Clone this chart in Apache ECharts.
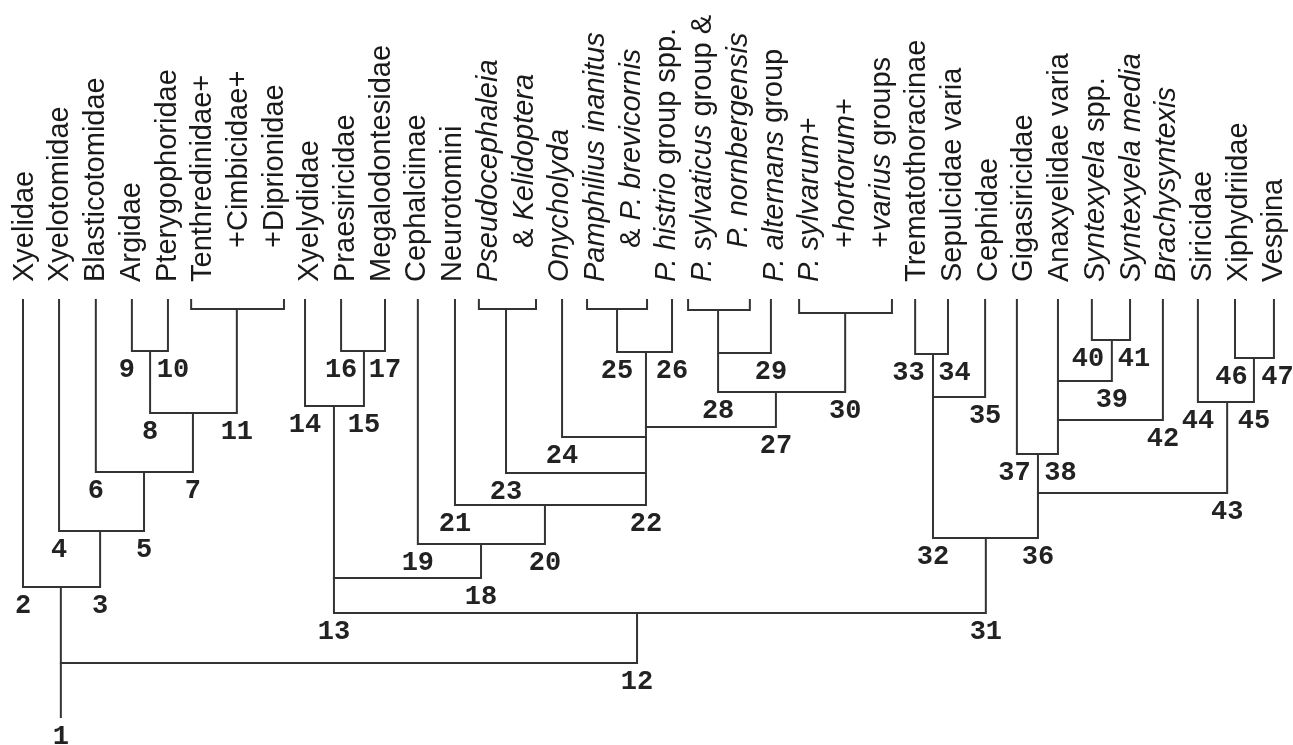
<!DOCTYPE html>
<html><head><meta charset="utf-8">
<script src="https://cdn.jsdelivr.net/npm/echarts@6/dist/echarts.min.js"></script>
<style>html,body{margin:0;padding:0;background:#fff}#chart{width:1293px;height:745px}</style>
</head><body><div id="chart"></div>
<script>
// ---- Leaf label columns (top, rotated) ----
const columnTexts = [
  'Xyelidae', 'Xyelotomidae', 'Blasticotomidae', 'Argidae', 'Pterygophoridae',
  'Tenthredinidae+', '+Cimbicidae+', '+Diprionidae',
  'Xyelydidae', 'Praesiricidae', 'Megalodontesidae', 'Cephalciinae', 'Neurotomini',
  '{i|Pseudocephaleia}', '& {i|Kelidoptera}', '{i|Onycholyda}',
  '{i|Pamphilius inanitus}', '& {i|P. brevicornis}', '{i|P. histrio} group spp.',
  '{i|P. sylvaticus} group &', '{i|P. nornbergensis}', '{i|P. alternans} group',
  '{i|P. sylvarum}+', '+{i|hortorum}+', '+{i|varius} groups',
  'Trematothoracinae', 'Sepulcidae varia', 'Cephidae', 'Gigasiricidae', 'Anaxyelidae varia',
  '{i|Syntexyela} spp.', '{i|Syntexyela media}', '{i|Brachysyntexis}', 'Siricidae', 'Xiphydriidae', 'Vespina'
];
const columnIndent = [0,0,0,0,0, 0,1,1, 0,0,0,0,0, 0,1,0, 0,1,0, 0,1,0, 0,1,1, 0,0,0,0,0, 0,0,0,0,0,0];

// ---- Terminal taxa: branch position (column units) and branch number ----
const termIds = ['Xyelidae','Xyelotomidae','Blasticotomidae','Argidae','Pterygophoridae','Tenthredinoidea',
  'Xyelydidae','Praesiricidae','Megalodontesidae','Cephalciinae','Neurotomini','Pseudocephaleia',
  'Onycholyda','Pamphilius','Phistrio','Psylvaticus','Palternans','Psylvarum',
  'Trematothoracinae','Sepulcidae','Cephidae','Gigasiricidae','Anaxyelidae','Syntexyela','Smedia',
  'Brachysyntexis','Siricidae','Xiphydriidae','Vespina'];
const termX = [0.00, 1.01, 2.04, 3.05, 4.06, 5.99,
  7.90, 8.91, 10.14, 11.06, 12.10, 13.53,
  15.10, 16.64, 18.18, 19.47, 20.95, 23.03,
  24.99, 25.91, 26.95, 27.84, 28.99, 29.94, 31.01,
  31.93, 32.91, 33.95, 35.04];
const termLabel = ['2','4','6','9','10','11',
  '14','16','17','19','21','23',
  '24','25','26','','29','30',
  '33','34','35','37','','40','41',
  '42','44','46','47'];

// ---- Bracketed multi-taxon terminals ----
const bracketIds = ['Tenthredinoidea','Pseudocephaleia','Pamphilius','Psylvaticus','Psylvarum'];
const bracketLeft = [4.71, 12.77, 15.80, 18.63, 21.74];
const bracketRight = [7.31, 14.37, 17.48, 20.36, 24.34];
const bracketDepth = [1.0, 1.0, 1.0, 1.1, 1.4];

// ---- Internal nodes ----
const nodeIds =   ['A','B','C','D','E','F','G','H','I','J','K','L','M','N','O','P','Q','R','S','T','U','V','W','X','Y','Z','AA','ROOT'];
const nodeLeft =  ['Argidae','A','Blasticotomidae','Xyelotomidae','Xyelidae','Praesiricidae','Xyelydidae','Pamphilius','Psylvaticus','I','H','Onycholyda','Pseudocephaleia','Neurotomini','Cephalciinae','G','Trematothoracinae','Q','Syntexyela','Anaxyelidae','T','Gigasiricidae','Xiphydriidae','Siricidae','V','R','P','E'];
const nodeRight = ['Pterygophoridae','Tenthredinoidea','B','C','D','Megalodontesidae','F','Phistrio','Palternans','Psylvarum','J','K','L','M','N','O','Sepulcidae','Cephidae','Smedia','S','Brachysyntexis','U','Vespina','W','X','Y','Z','AA'];
const nodeX =     [3.56, 4.76, 3.39, 2.16, 1.06, 9.55, 8.71, 17.45, 19.47, 21.09, 17.45, 17.45, 17.45, 14.62, 12.83, 8.71, 25.49, 25.49, 30.50, 28.99, 28.99, 28.43, 34.48, 33.73, 28.43, 26.97, 17.20, 1.06];
const nodeDepth = [5.2, 11.4, 17.3, 23.2, 28.8, 5.2, 10.7, 5.3, 5.4, 9.3, 12.8, 13.8, 17.4, 20.6, 24.5, 27.9, 5.5, 9.8, 4.1, 8.2, 12.1, 15.5, 5.9, 10.3, 19.4, 23.9, 31.4, 36.4];
const nodeLabel = ['8','7','5','3','','15','','','28','27','','','22','20','18','13','','32','39','','38','','45','43','36','31','12','1'];
const rootStemEnd = 41.9;

// ---- Build geometry in data units ----
const pos = {};
termIds.forEach((id, i) => {
  const b = bracketIds.indexOf(id);
  pos[id] = { x: termX[i], top: b >= 0 ? bracketDepth[b] : 0, label: termLabel[i] };
});
nodeIds.forEach((id, i) => { pos[id] = { x: nodeX[i], top: nodeDepth[i], label: nodeLabel[i] }; });

const polylines = [];
bracketIds.forEach((id, i) => {
  polylines.push([[bracketLeft[i], 0], [bracketLeft[i], bracketDepth[i]], [bracketRight[i], bracketDepth[i]], [bracketRight[i], 0]]);
});
const numberLabels = []; // [x, depth, text, side(-1 left / +1 right), pairedClose]
nodeIds.forEach((id, i) => {
  const l = pos[nodeLeft[i]], r = pos[nodeRight[i]], d = nodeDepth[i];
  polylines.push([[l.x, l.top], [l.x, d], [r.x, d], [r.x, r.top]]);
  const both = l.label && r.label;
  const gap = r.x - l.x;
  if (l.label) numberLabels.push([l.x, d, l.label, -1, both ? gap : 99]);
  if (r.label) numberLabels.push([r.x, d, r.label, 1, both ? gap : 99]);
});
const root = pos['ROOT'];
polylines.push([[root.x, root.top], [root.x, rootStemEnd]]);
numberLabels.push([root.x, rootStemEnd, root.label, 0, 99]);

const chart = echarts.init(document.getElementById('chart'), null, { renderer: 'canvas' });
const FONT = '"Liberation Sans", Arial, Helvetica, sans-serif';
chart.setOption({
  animation: false,
  backgroundColor: '#ffffff',
  grid: { left: 0, right: 0, top: 0, bottom: 0 },
  xAxis: { type: 'value', min: -23 / 35.7, max: (1293 - 23) / 35.7, show: false },
  yAxis: { type: 'value', inverse: true, min: -29.9, max: 44.6, show: false },
  series: [
    {
      type: 'custom', silent: true,
      data: polylines.map((p, i) => [i, 0]),
      renderItem: (params, api) => {
        const pts = polylines[params.dataIndex].map(p => api.coord(p));
        return { type: 'polyline', shape: { points: pts }, style: { stroke: '#333', lineWidth: 2, fill: null, lineJoin: 'miter' } };
      }
    },
    {
      type: 'custom', silent: true,
      data: columnTexts.map((t, i) => [i, 0]),
      renderItem: (params, api) => {
        const i = params.dataIndex;
        const p = api.coord([i + 0.05, 0]);
        return {
          type: 'text', x: p[0], y: p[1] - 17 - (columnIndent[i] ? 34 : 0), rotation: Math.PI / 2,
          style: {
            text: columnTexts[i], fontFamily: FONT, fontSize: 29, fill: '#1a1a1a',
            align: 'left', verticalAlign: 'middle',
            rich: { i: { fontStyle: 'italic', fontFamily: FONT, fontSize: 29, fill: '#1a1a1a' } }
          }
        };
      }
    },
    {
      type: 'custom', silent: true,
      data: numberLabels.map(n => [n[0], n[1]]),
      renderItem: (params, api) => {
        const n = numberLabels[params.dataIndex];
        const p = api.coord([n[0], n[1]]);
        const gapPx = n[4] * 35.7;
        const push = gapPx < 42 ? (42 - gapPx) / 2 + 2 : 0;
        return {
          type: 'text', x: p[0] + n[3] * push, y: p[1] + 19,
          style: { text: n[2], fontFamily: '"Liberation Mono", "Courier New", monospace', fontWeight: 'bold', fontSize: 27, fill: '#222', align: 'center', verticalAlign: 'middle' }
        };
      }
    }
  ]
});
</script>
</body></html>
